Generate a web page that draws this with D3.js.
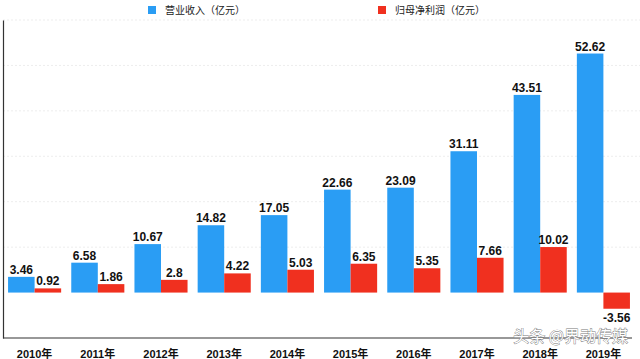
<!DOCTYPE html>
<html><head><meta charset="utf-8">
<script src="https://cdn.jsdelivr.net/npm/d3@7/dist/d3.min.js"></script>
<style>body{margin:0;background:#fff;}svg{display:block;}</style>
</head><body>
<svg id="c" width="640" height="359"></svg>
<script>
const years = ["2010年","2011年","2012年","2013年","2014年","2015年","2016年","2017年","2018年","2019年"];
const revenue = [3.46,6.58,10.67,14.82,17.05,22.66,23.09,31.11,43.51,52.62];
const profit = [0.92,1.86,2.8,4.22,5.03,6.35,5.35,7.66,10.02,-3.56];
const seriesNames = ["营业收入（亿元）","归母净利润（亿元）"];
const colors = ["#2a9df4","#f0301f"];
const gridTicks = [10,20,30,40,50,60];

const svg = d3.select("#c");
const x0 = d3.scaleBand().domain(years).range([3,635]).paddingInner(0.16).paddingOuter(0.08);
const x1 = d3.scaleBand().domain([0,1]).range([0,x0.bandwidth()]);
const y = d3.scaleLinear().domain([-10,60]).range([338,20]);

// grid
svg.append("g").selectAll("line").data(gridTicks).join("line")
  .attr("x1",3).attr("x2",640).attr("y1",d=>y(d)).attr("y2",d=>y(d))
  .attr("stroke","#ededed").attr("stroke-width",1).attr("stroke-dasharray","2,2");

const data = years.map((yr,i)=>({yr, vals:[revenue[i],profit[i]]}));
const g = svg.append("g").selectAll("g").data(data).join("g")
  .attr("transform",d=>`translate(${x0(d.yr)},0)`);
g.selectAll("rect").data(d=>d.vals.map((v,k)=>({v,k}))).join("rect")
  .attr("x",d=>x1(d.k)).attr("width",x1.bandwidth())
  .attr("y",d=>y(Math.max(0,d.v))).attr("height",d=>Math.abs(y(d.v)-y(0)))
  .attr("fill",d=>colors[d.k]);
g.selectAll("text").data(d=>d.vals.map((v,k)=>({v,k}))).join("text")
  .attr("x",d=>x1(d.k)+x1.bandwidth()/2)
  .attr("y",d=>d.v>=0 ? y(d.v)-3 : y(d.v)+13)
  .attr("text-anchor","middle")
  .attr("font-family","Liberation Sans, Arial, sans-serif").attr("font-weight","bold")
  .attr("font-size",12).attr("fill","#111")
  .text(d=>d.v);

// axes
const xAxis = d3.axisBottom(x0).tickSize(0).tickPadding(12);
const ax = svg.append("g").attr("transform",`translate(0,${y(-10)})`).call(xAxis);
ax.select(".domain").attr("stroke","#333").attr("stroke-width",1.2).attr("d","M3,0H632");
ax.selectAll("text").attr("font-family","Liberation Sans, Noto Sans CJK SC, sans-serif")
  .attr("font-weight","bold").attr("font-size",11).attr("fill","#111");
const yAxis = d3.axisLeft(y).tickValues([]).tickSize(0);
const ay = svg.append("g").attr("transform","translate(3,0)").call(yAxis);
ay.select(".domain").attr("stroke","#333").attr("stroke-width",1.2);

// legend
const legX = [148,378];
const leg = svg.append("g").selectAll("g").data(seriesNames).join("g")
  .attr("transform",(d,i)=>`translate(${legX[i]},6)`);
leg.append("rect").attr("width",8).attr("height",8).attr("fill",(d,i)=>colors[i]);
leg.append("text").attr("x",17).attr("y",8).attr("font-size",10)
  .attr("font-family","Noto Sans CJK SC, sans-serif").attr("fill","#222").text(d=>d);

// watermark
svg.append("text").attr("x",628).attr("y",342).attr("text-anchor","end")
  .attr("font-family","Noto Sans CJK SC, sans-serif").attr("font-size",16)
  .attr("fill","#fff").attr("stroke","#777").attr("stroke-width",0.8)
  .attr("paint-order","stroke").text("头条 @界动传媒");
</script>
</body></html>
